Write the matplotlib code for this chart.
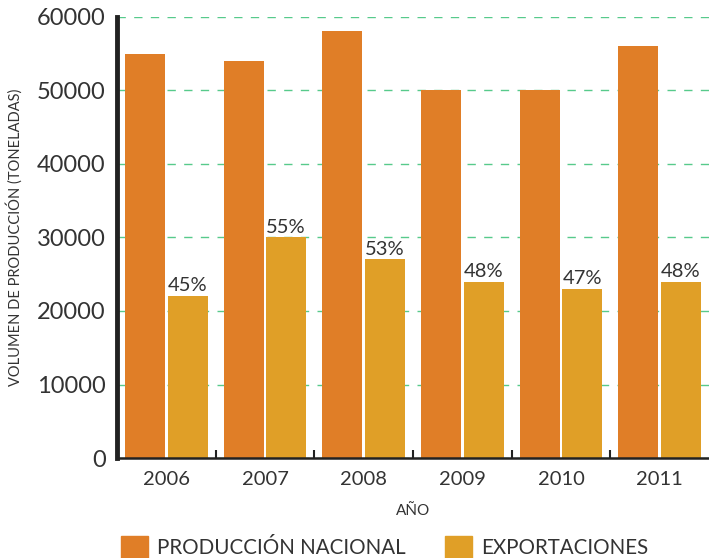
import matplotlib
matplotlib.use("Agg")
import matplotlib.pyplot as plt
import numpy as np
from matplotlib.patches import Patch

years = ["2006", "2007", "2008", "2009", "2010", "2011"]
produccion = [55000, 54000, 58000, 50000, 50000, 56000]
exportaciones = [22000, 30000, 27000, 24000, 23000, 24000]
porcentajes = ["45%", "55%", "53%", "48%", "47%", "48%"]

ORANGE = "#E07E27"
YELLOW = "#E09F27"
TEXT = "#333333"

plt.rcParams["font.family"] = ["Lato", "DejaVu Sans"]

fig = plt.figure(figsize=(7.09, 5.58), dpi=100)
ax = fig.add_axes([0.165, 0.179, 0.835, 0.791])

x = np.arange(len(years))
w = 0.405
ax.bar(x - 0.215, produccion, w, color=ORANGE, zorder=2)
bars = ax.bar(x + 0.215, exportaciones, w, color=YELLOW, zorder=2)
for b, lab in zip(bars, porcentajes):
    ax.text(b.get_x() + b.get_width() / 2, b.get_height() + 250, lab,
            ha="center", va="bottom", fontsize=14.5, color=TEXT)

ax.set_xlim(-0.5, 5.5)
ax.set_ylim(0, 60000)
ax.set_yticks(np.arange(0, 60001, 10000))
ax.yaxis.grid(True, color="#2dbd6e", linestyle=(0, (6, 6)), linewidth=1, alpha=0.8, zorder=0)
ax.set_axisbelow(True)

ax.set_xticks(x)
ax.set_xticklabels(years)
ax.tick_params(axis="x", length=0, labelsize=14.5, labelcolor=TEXT, pad=9)
ax.tick_params(axis="y", length=0, labelsize=17, labelcolor=TEXT, pad=8)
ax.set_xticks(x[:-1] + 0.5, minor=True)
ax.tick_params(axis="x", which="minor", direction="in", length=6, width=1.5, color="#222222")

for s in ["top", "right"]:
    ax.spines[s].set_visible(False)
ax.spines["left"].set_linewidth(3.5)
ax.spines["left"].set_color("#222222")
ax.spines["bottom"].set_linewidth(1.8)
ax.spines["bottom"].set_color("#222222")

ax.set_ylabel("VOLUMEN DE PRODUCCIÓN (TONELADAS)", fontsize=10.5, color=TEXT, labelpad=10)
ax.set_xlabel("AÑO", fontsize=11, color=TEXT, labelpad=12)

handles = [Patch(color=ORANGE, label="PRODUCCIÓN NACIONAL"),
           Patch(color=YELLOW, label="EXPORTACIONES")]
fig.legend(handles=handles, loc="lower left", bbox_to_anchor=(0.145, -0.033), ncol=2,
           frameon=False, fontsize=14.8, handlelength=1.3, handleheight=1.3,
           handletextpad=0.45, columnspacing=1.9, labelcolor=TEXT)

fig.savefig("out.png", dpi=100)
